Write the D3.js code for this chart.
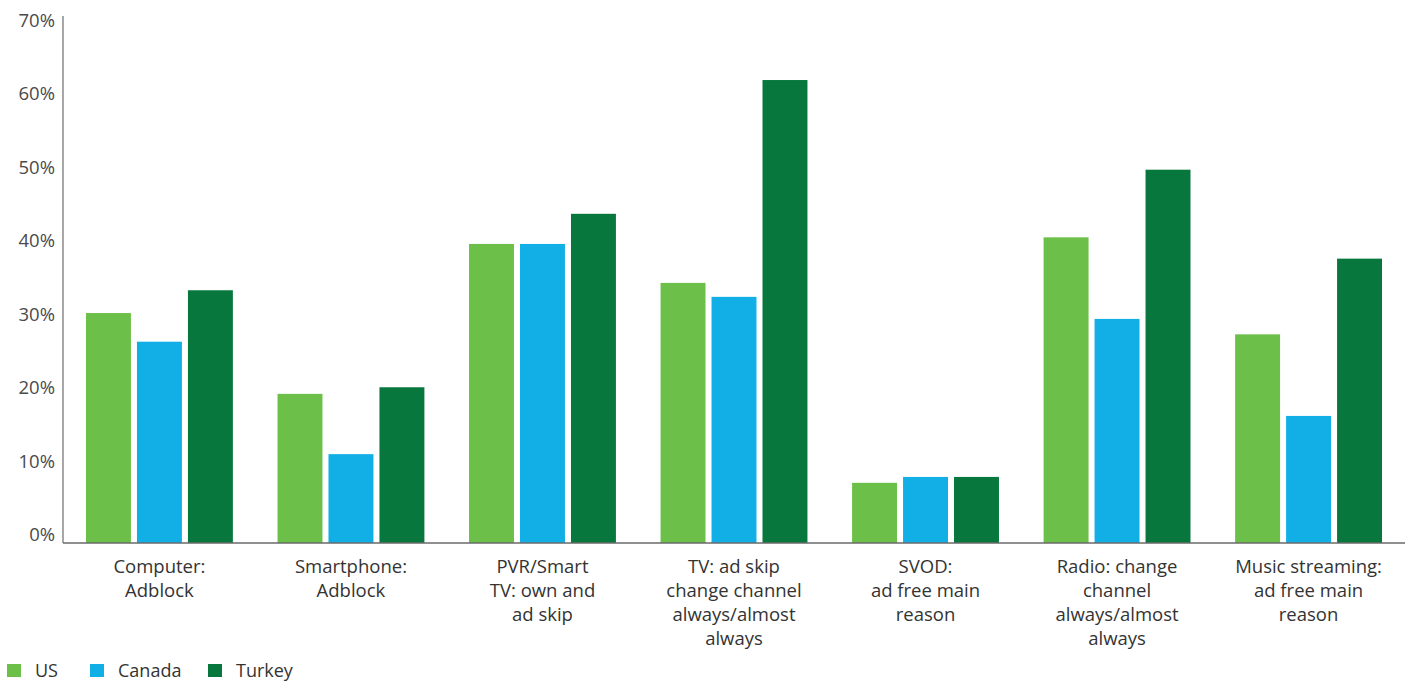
<!DOCTYPE html>
<html><head><meta charset="utf-8">
<script src="https://cdn.jsdelivr.net/npm/d3@7"></script>
<style>
body{margin:0;background:#fff;}
text{font-family:"Open Sans",sans-serif;}
</style></head>
<body><svg id="c" width="1411" height="682"></svg>
<script>
const categories = [
  ["Computer:","Adblock"],
  ["Smartphone:","Adblock"],
  ["PVR/Smart","TV: own and","ad skip"],
  ["TV: ad skip","change channel","always/almost","always"],
  ["SVOD:","ad free main","reason"],
  ["Radio: change","channel","always/almost","always"],
  ["Music streaming:","ad free main","reason"]
];
const seriesNames = ["US","Canada","Turkey"];
const usValues = [30.2, 19.2, 39.6, 34.3, 7.1, 40.5, 27.3];
const canadaValues = [26.3, 11, 39.6, 32.4, 7.9, 29.4, 16.2];
const turkeyValues = [33.3, 20.1, 43.7, 61.9, 7.9, 49.7, 37.6];
const tickValues = [0,10,20,30,40,50,60,70];
const colors = ["#6cc04a","#12afe6","#07773d"];

const svg = d3.select("#c");
const left = 63, right = 1405, axisY = 543;
const y = d3.scaleLinear().domain([0,70]).range([535, 20.5]);
const x0 = d3.scaleBand().domain(d3.range(categories.length)).range([left,right]).paddingInner(0.233).paddingOuter(0.12);
const x1 = d3.scaleBand().domain(seriesNames).range([0,x0.bandwidth()]).paddingInner(0.118).paddingOuter(0);
const color = d3.scaleOrdinal().domain(seriesNames).range(colors);
const data = [usValues, canadaValues, turkeyValues];

// bars
const g = svg.append("g");
categories.forEach((c,i)=>{
  seriesNames.forEach((s,j)=>{
    const v = data[j][i];
    g.append("rect")
      .attr("x", x0(i)+x1(s))
      .attr("y", y(v))
      .attr("width", x1.bandwidth())
      .attr("height", axisY - y(v))
      .attr("fill", color(s));
  });
});

// y axis
const yAxis = d3.axisLeft(y).tickValues(tickValues).tickFormat(d=>d+"%").tickSize(0).tickPadding(8);
const ya = svg.append("g").attr("transform",`translate(${left},0)`).call(yAxis);
ya.select(".domain").remove();
ya.selectAll("text").attr("font-size",18.5).attr("fill","#4a4a4a").attr("font-family","'Open Sans',sans-serif").attr("dy","0.3em");
svg.append("line").attr("x1",left).attr("x2",left).attr("y1",16).attr("y2",axisY).attr("stroke","#8a8a8a").attr("stroke-width",1.5);
svg.append("line").attr("x1",left).attr("x2",right).attr("y1",axisY).attr("y2",axisY).attr("stroke","#6a6a6a").attr("stroke-width",1.5);

// category labels
categories.forEach((lines,i)=>{
  const t = svg.append("text").attr("text-anchor","middle").attr("font-size",18.5).attr("fill","#333");
  lines.forEach((l,k)=>{
    t.append("tspan").attr("x", x0(i)+x0.bandwidth()/2).attr("y", 573+k*24).text(l);
  });
});

// legend
const legX = [7, 90, 208];
seriesNames.forEach((s,j)=>{
  svg.append("rect").attr("x",legX[j]).attr("y",664).attr("width",14).attr("height",13).attr("fill",color(s));
  svg.append("text").attr("x",legX[j]+28).attr("y",677).attr("font-size",18).attr("fill","#333").text(s);
});
</script></body></html>
